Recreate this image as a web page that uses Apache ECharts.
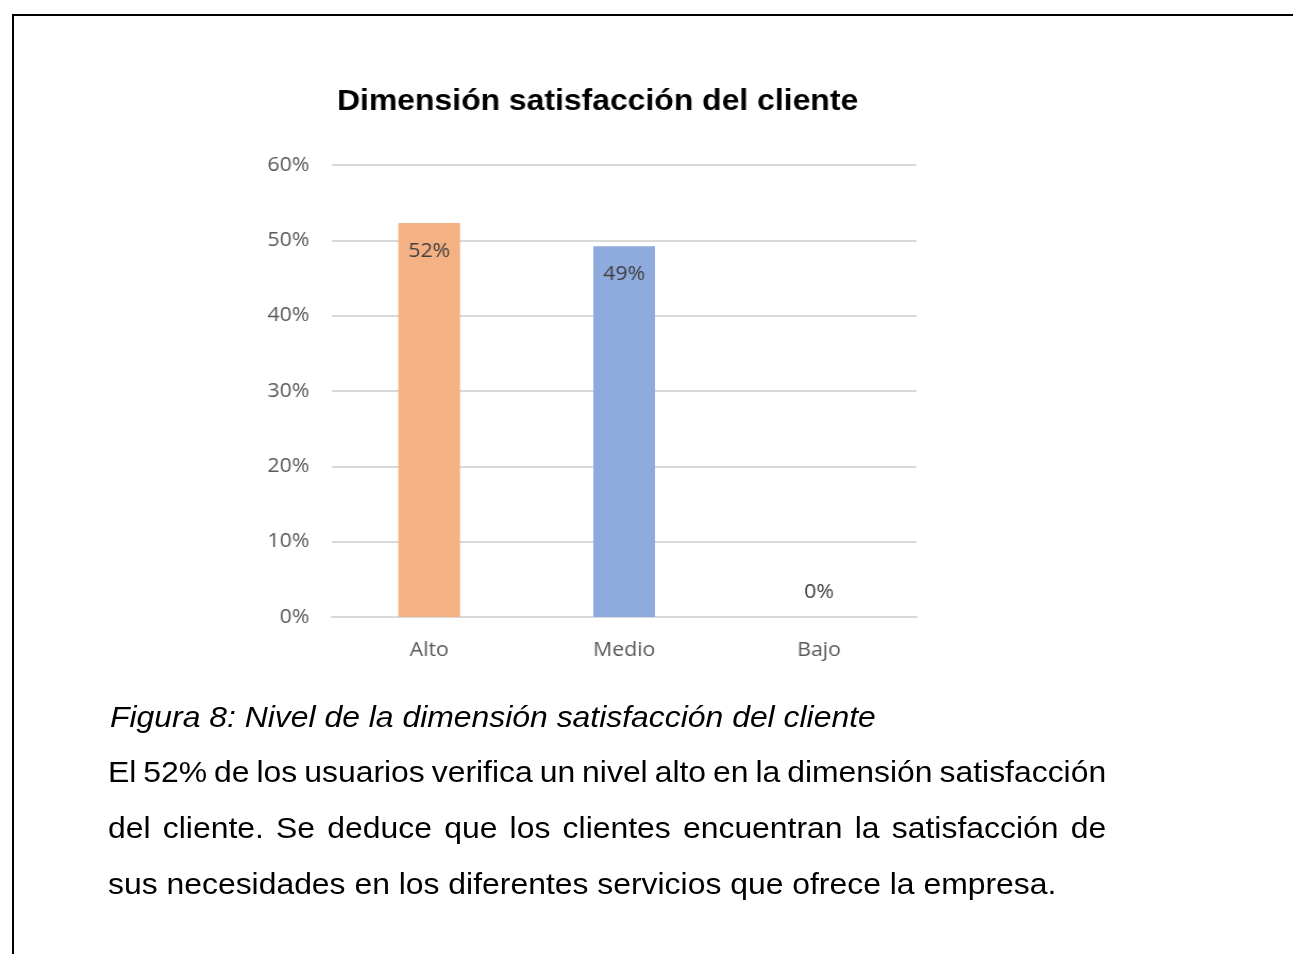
<!DOCTYPE html>
<html>
<head>
<meta charset="utf-8">
<script src="https://cdn.jsdelivr.net/npm/echarts@6/dist/echarts.min.js"></script>
<style>
  html, body { margin: 0; padding: 0; background: #fff; }
  #wrap { position: relative; width: 1293px; height: 954px; overflow: hidden; }
  #chart { position: absolute; left: 0; top: 0; width: 1216px; height: 954px;
           transform: scaleX(1.0633); transform-origin: 0 0; }
  #frame { position: absolute; left: 12px; top: 14px; right: -10px; bottom: -10px;
           border-top: 2px solid #000; border-left: 2px solid #000; }
  .txt { position: absolute; font-family: "Liberation Sans", Arial, sans-serif; color: #000; white-space: nowrap;
         transform: scaleX(1.063); transform-origin: 0 0; }
  #caption { left: 110px; top: 697px; font-size: 30px; line-height: 40px; font-style: italic; }
  .line { left: 108px; width: 939px; font-size: 30px; line-height: 56px; }
  .just { text-align: justify; text-align-last: justify; white-space: normal; }
  .tight { word-spacing: -6px; }
</style>
</head>
<body>
<div id="wrap">
  <div id="frame"></div>
  <div id="chart"></div>
  <div id="caption" class="txt">Figura 8: Nivel de la dimensión satisfacción del cliente</div>
  <div class="txt line just tight" style="top:744px">El 52% de los usuarios verifica un nivel alto en la dimensión satisfacción</div>
  <div class="txt line just" style="top:800px">del cliente. Se deduce que los clientes encuentran la satisfacción de</div>
  <div class="txt line" style="top:856px">sus necesidades en los diferentes servicios que ofrece la empresa.</div>
</div>
<script>
const chartTitle = 'Dimensión satisfacción del cliente';
const categories = ['Alto', 'Medio', 'Bajo'];
const values = [0.523, 0.492, 0];
const barColors = ['#F4B183', '#8FAADC', '#A9D18E'];
const yTicks = { min: 0, max: 0.6, interval: 0.1 };

const chart = echarts.init(document.getElementById('chart'), null, { renderer: 'canvas' });
const fontUI = '"Open Sans", "Noto Sans", sans-serif';
chart.setOption({
  animation: false,
  title: {
    text: chartTitle,
    left: 557, top: 82, textAlign: 'center',
    textStyle: { fontFamily: '"Liberation Sans", Arial, sans-serif', fontWeight: 'bold', fontSize: 30, color: '#000' }
  },
  grid: { left: 312, right: 354, top: 165, bottom: 337, containLabel: false },
  xAxis: {
    type: 'category',
    data: categories,
    axisLine: { show: true, lineStyle: { color: '#D9D9D9', width: 2 } },
    axisTick: { show: false },
    axisLabel: { color: '#595959', fontSize: 20, fontFamily: fontUI, margin: 23 }
  },
  yAxis: {
    type: 'value',
    min: yTicks.min, max: yTicks.max, interval: yTicks.interval,
    axisLine: { show: false },
    axisTick: { show: false },
    splitLine: { lineStyle: { color: '#D9D9D9', width: 2 } },
    axisLabel: {
      color: '#595959', fontSize: 20, fontFamily: fontUI, margin: 21,
      formatter: v => Math.round(v * 100) + '%'
    }
  },
  series: [{
    type: 'bar',
    barWidth: 58,
    data: values.map((v, i) => ({
      value: v,
      itemStyle: { color: barColors[i] },
      label: v === 0 ? { position: 'top', distance: 15 } : undefined
    })),
    label: {
      show: true,
      position: 'insideTop',
      distance: 18,
      color: '#404040',
      fontSize: 20,
      fontFamily: fontUI,
      formatter: p => Math.round(p.value * 100) + '%'
    }
  }]
});
</script>
</body>
</html>
